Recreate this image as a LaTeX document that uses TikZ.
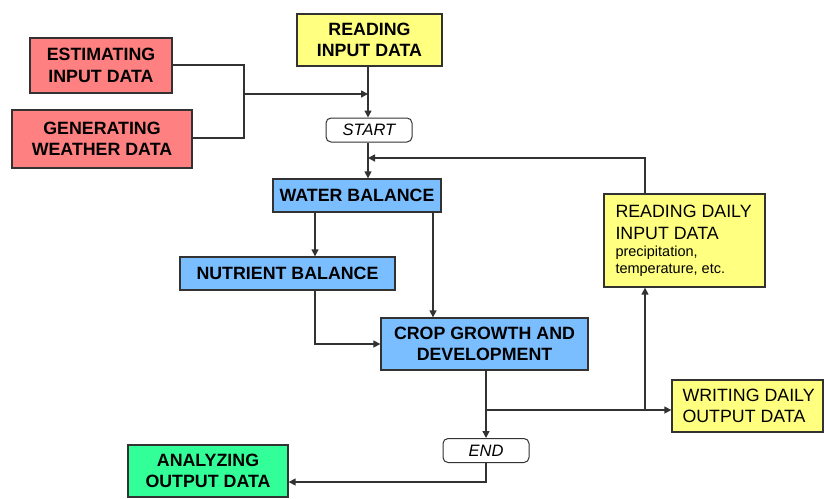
\documentclass[tikz,border=0pt]{standalone}
\usepackage{fontspec}
\setmainfont{Liberation Sans}
\usetikzlibrary{arrows.meta}
\definecolor{redfill}{RGB}{255,128,128}
\definecolor{yelfill}{RGB}{255,255,128}
\definecolor{bluefill}{RGB}{122,190,255}
\definecolor{grnfill}{RGB}{51,255,153}
\definecolor{edge}{RGB}{50,50,50}
\begin{document}
\begin{tikzpicture}[x=1pt,y=-1pt,
  box/.style={draw=edge,line width=1.3pt,inner sep=0pt,align=center,font=\fontsize{17.8}{21.5}\selectfont\bfseries},
  plain/.style={font=\fontsize{17.8}{21.5}\selectfont},
  term/.style={draw=edge,line width=1pt,rounded corners=5pt,fill=white,inner sep=0pt,minimum width=86pt,minimum height=24pt,font=\fontsize{16.5}{18}\selectfont\itshape},
  conn/.style={draw=edge,line width=1.4pt},
  arr/.style={conn,-{Triangle[length=7pt,width=7pt]}}]
\useasboundingbox (0,0) rectangle (824,498);
\node[box,fill=redfill,minimum width=142pt,minimum height=55pt] (est) at (101,65.5) {ESTIMATING\\INPUT DATA};
\node[box,fill=redfill,minimum width=180pt,minimum height=58pt] (gen) at (102,139) {GENERATING\\WEATHER DATA};
\node[box,fill=yelfill,minimum width=145pt,minimum height=52pt] (rin) at (369.5,40) {READING\\INPUT DATA};
\node[term] (start) at (369,130) {START};
\node[box,fill=bluefill,minimum width=168pt,minimum height=33pt] (wat) at (357,195.5) {WATER BALANCE};
\node[box,fill=bluefill,minimum width=215pt,minimum height=33pt] (nut) at (287.5,273.5) {NUTRIENT BALANCE};
\node[box,fill=bluefill,minimum width=207pt,minimum height=52pt] (crop) at (484.5,344) {CROP GROWTH AND\\DEVELOPMENT};
\node[box,fill=yelfill,minimum width=161pt,minimum height=93pt,align=left,plain] (rdd) at (684.5,240.5) {\parbox{138pt}{\fontsize{17.8}{22.5}\selectfont\mbox{READING DAILY}\\\mbox{INPUT DATA}\par\vspace{0.5pt}\fontsize{14.5}{16.5}\selectfont precipitation,\\temperature, etc.\par}};
\node[box,fill=yelfill,minimum width=151pt,minimum height=52pt,align=left,plain] (wdd) at (747.5,406) {\parbox{140pt}{\hspace*{5pt}\mbox{WRITING DAILY}\\\hspace*{5pt}\mbox{OUTPUT DATA}}};
\node[term] (end) at (486,450.5) {END};
\node[box,fill=grnfill,minimum width=160pt,minimum height=52pt] (ana) at (208,471) {ANALYZING\\OUTPUT DATA};
\coordinate (j1) at (244,94);
\draw[conn] (est.east |- 0,65) -| (244,138) -- (gen.east |- 0,138);
\draw[arr] (j1) -- (368,94);
\draw[arr] (rin.south -| 368,0) -- (start.north -| 368,0);
\draw[arr] (start.south -| 368,0) -- (wat.north -| 368,0);
\draw[arr] (rdd.north -| 645,0) |- (368,158);
\draw[arr] (wat.south -| 315,0) -- (nut.north -| 315,0);
\draw[arr] (wat.south -| 433,0) -- (crop.north -| 433,0);
\draw[arr] (nut.south -| 315,0) |- (crop.west |- 0,344);
\coordinate (j2) at (486,410);
\draw[arr] (crop.south -| 486,0) -- (end.north);
\draw[arr] (j2) -- (wdd.west |- j2);
\draw[arr] (645,410) -- (rdd.south -| 645,0);
\draw[arr] (end.south) |- (ana.east |- 0,482);
\end{tikzpicture}
\end{document}
